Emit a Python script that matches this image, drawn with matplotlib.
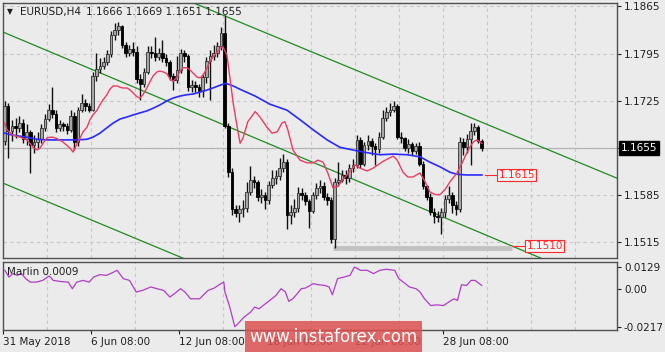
import matplotlib
matplotlib.use("Agg")
import matplotlib.pyplot as plt
import matplotlib.transforms as mtransforms
from matplotlib.patches import Rectangle
import numpy as np

# ---- data (bar index = H4 bar, 0 = first visible bar) ----
symbol = "EURUSD,H4"
last_ohlc = "1.1666 1.1669 1.1651 1.1655"

first_open = 1.1665
close = [1.1718, 1.1680, 1.1688, 1.1684, 1.1692, 1.1668, 1.1678, 1.1660, 1.1664, 1.1668,
         1.1684, 1.1698, 1.1712, 1.1705, 1.1684, 1.1690, 1.1688, 1.1682, 1.1702, 1.1664,
         1.1712, 1.1722, 1.1718, 1.1712, 1.1762, 1.1772, 1.1776, 1.1782, 1.1794, 1.1822,
         1.1830, 1.1836, 1.1808, 1.1796, 1.1802, 1.1797, 1.1758, 1.1750, 1.1768, 1.1798,
         1.1796, 1.1790, 1.1796, 1.1788, 1.1782, 1.1762, 1.1756, 1.1770, 1.1796, 1.1792,
         1.1746, 1.1749, 1.1746, 1.1740, 1.1760, 1.1784, 1.1792, 1.1796, 1.1806, 1.1826,
         1.1688, 1.1620, 1.1564, 1.1558, 1.1564, 1.1566, 1.1590, 1.1608, 1.1605, 1.1582,
         1.1586, 1.1578, 1.1600, 1.1610, 1.1613, 1.1626, 1.1634, 1.1556, 1.1560, 1.1566,
         1.1588, 1.1586, 1.1576, 1.1562, 1.1585, 1.1596, 1.1599, 1.1582, 1.1578, 1.1520,
         1.1604, 1.1608, 1.1615, 1.1610, 1.1625, 1.1630, 1.1667, 1.1632, 1.1660, 1.1666,
         1.1658, 1.1653, 1.1672, 1.1700, 1.1708, 1.1712, 1.1718, 1.1672, 1.1670, 1.1655,
         1.1661, 1.1650, 1.1658, 1.1632, 1.1598, 1.1583, 1.1560, 1.1554, 1.1552, 1.1560,
         1.1580, 1.1586, 1.1570, 1.1564, 1.1664, 1.1656, 1.1668, 1.1680, 1.1686, 1.1666,
         1.1655]
high = [1.1724, 1.1722, 1.1697, 1.1700, 1.1702, 1.1698, 1.1690, 1.1682, 1.1675, 1.1678,
        1.1690, 1.1706, 1.1720, 1.1745, 1.1712, 1.1697, 1.1694, 1.1692, 1.1712, 1.1708,
        1.1716, 1.1735, 1.1727, 1.1722, 1.1768, 1.1796, 1.1788, 1.1790, 1.1800, 1.1828,
        1.1840, 1.1842, 1.1838, 1.1812, 1.1808, 1.1812, 1.1806, 1.1765, 1.1774, 1.1806,
        1.1806, 1.1820, 1.1804, 1.1815, 1.1795, 1.1786, 1.1766, 1.1792, 1.1802, 1.1800,
        1.1795, 1.1756, 1.1754, 1.1750, 1.1766, 1.1790, 1.1800, 1.1808, 1.1812, 1.1834,
        1.1852, 1.1692, 1.1625, 1.1570, 1.1570, 1.1578, 1.1604, 1.1628, 1.1614, 1.1608,
        1.1594, 1.1590, 1.1606, 1.1622, 1.1622, 1.1640, 1.1646, 1.1638, 1.1570, 1.1580,
        1.1597, 1.1596, 1.1590, 1.1580, 1.1590, 1.1603, 1.1608, 1.1604, 1.1588, 1.1582,
        1.1610, 1.1634, 1.1622, 1.1622, 1.1632, 1.1638, 1.1675, 1.1672, 1.1664, 1.1675,
        1.1670, 1.1662, 1.1678, 1.1712, 1.1716, 1.1722, 1.1724, 1.1720, 1.1678, 1.1672,
        1.1668, 1.1664, 1.1663, 1.1664, 1.1636, 1.1600, 1.1588, 1.1566, 1.1562, 1.1566,
        1.1586, 1.1598, 1.1590, 1.1576, 1.1672, 1.1670, 1.1676, 1.1692, 1.1692, 1.1689,
        1.1669]
low = [1.1660, 1.1640, 1.1665, 1.1670, 1.1678, 1.1662, 1.1660, 1.1618, 1.1648, 1.1655,
       1.1662, 1.1680, 1.1695, 1.1700, 1.1678, 1.1680, 1.1680, 1.1676, 1.1678, 1.1652,
       1.1658, 1.1708, 1.1710, 1.1708, 1.1710, 1.1755, 1.1766, 1.1772, 1.1778, 1.1790,
       1.1815, 1.1822, 1.1804, 1.1790, 1.1792, 1.1792, 1.1752, 1.1726, 1.1745, 1.1765,
       1.1788, 1.1784, 1.1786, 1.1782, 1.1776, 1.1756, 1.1741, 1.1752, 1.1766, 1.1782,
       1.1740, 1.1738, 1.1738, 1.1730, 1.1730, 1.1752, 1.1726, 1.1786, 1.1790, 1.1800,
       1.1684, 1.1612, 1.1556, 1.1552, 1.1546, 1.1552, 1.1560, 1.1585, 1.1596, 1.1576,
       1.1574, 1.1564, 1.1572, 1.1596, 1.1602, 1.1608, 1.1620, 1.1535, 1.1543, 1.1552,
       1.1560, 1.1578, 1.1570, 1.1536, 1.1558, 1.1580, 1.1588, 1.1578, 1.1570, 1.1514,
       1.1507, 1.1598, 1.1604, 1.1602, 1.1605, 1.1620, 1.1626, 1.1625, 1.1628, 1.1652,
       1.1645, 1.1630, 1.1648, 1.1668, 1.1695, 1.1702, 1.1708, 1.1668, 1.1662, 1.1650,
       1.1648, 1.1645, 1.1646, 1.1628, 1.1594, 1.1578, 1.1555, 1.1544, 1.1546, 1.1528,
       1.1552, 1.1574, 1.1558, 1.1556, 1.1560, 1.1645, 1.1648, 1.1630, 1.1674, 1.1662,
       1.1651]

# fast (red) moving average
red_x = [0, 0.7, 2.3, 4.2, 6.1, 7.8, 8.9, 9.7, 10.5, 11.6,
         12.4, 13.2, 14.3, 15.9, 17.8, 18.7, 19.8, 20.6, 21.4, 22.5,
         23.3, 24.1, 25.2, 26.0, 26.8, 27.9, 28.7, 29.6, 30.7, 31.5,
         32.3, 33.4, 34.2, 35.0, 36.1, 36.9, 37.7, 38.8, 39.6, 40.5,
         41.6, 42.4, 43.2, 44.3, 45.1, 45.9, 47.0, 47.8, 48.6, 49.7,
         50.5, 51.4, 52.5, 53.3, 54.1, 55.2, 56.0, 56.8, 57.9, 58.7,
         59.5, 60.6, 61.4, 62.3, 63.4, 64.2, 65.0, 66.3, 68.3, 69.6,
         71.5, 72.9, 74.3, 75.6, 76.4, 77.2, 78.6, 80.5, 82.4, 84.1,
         85.4, 86.8, 88.1, 89.5, 90.8, 92.2, 93.6, 95.5, 96.9, 98.8,
         100.4, 103.1, 105.9, 107.0, 108.6, 109.9, 111.3, 113.2, 114.6, 115.9,
         117.3, 118.7, 120.0, 121.4, 123.3, 124.7, 126.0, 126.8, 127.7, 128.7,
         130.1]
red_y = [1.1692, 1.1682, 1.1674, 1.1671, 1.1667, 1.1656, 1.1652, 1.1655, 1.1662, 1.1670,
         1.1671, 1.1671, 1.1669, 1.1664, 1.1655, 1.1649, 1.1662, 1.1670, 1.1679, 1.1686,
         1.1697, 1.1704, 1.1711, 1.1719, 1.1726, 1.1734, 1.1742, 1.1747, 1.1747, 1.1745,
         1.1744, 1.1744, 1.1741, 1.1737, 1.1731, 1.1729, 1.1734, 1.1744, 1.1753, 1.1762,
         1.1768, 1.1769, 1.1768, 1.1765, 1.1757, 1.1754, 1.1760, 1.1768, 1.1774, 1.1774,
         1.1771, 1.1766, 1.1760, 1.1759, 1.1763, 1.1774, 1.1783, 1.1790, 1.1797, 1.1803,
         1.1805, 1.1793, 1.1760, 1.1722, 1.1686, 1.1662, 1.1670, 1.1694, 1.1709, 1.1701,
         1.1686, 1.1677, 1.1679, 1.1692, 1.1694, 1.1682, 1.1652, 1.1637, 1.1633, 1.1633,
         1.1637, 1.1634, 1.1618, 1.1596, 1.1598, 1.1608, 1.1617, 1.1630, 1.1625, 1.1621,
         1.1625, 1.1635, 1.1643, 1.1637, 1.1619, 1.1612, 1.1612, 1.1618, 1.1605, 1.1590,
         1.1586, 1.1586, 1.1593, 1.1605, 1.1618, 1.1633, 1.1648, 1.1656, 1.1664, 1.1667,
         1.1662]

# slow (blue) moving average
blue_x = [0, 2.3, 6.1, 8.9, 11.6, 19.8, 22.5, 24.1, 26.0, 27.9,
          29.6, 31.5, 33.4, 35.0, 36.9, 38.8, 40.5, 42.4, 44.3, 45.9,
          47.8, 49.7, 51.4, 53.3, 55.2, 56.8, 58.7, 60.3, 62.3, 64.2,
          68.3, 72.3, 77.0, 80.5, 84.1, 87.9, 91.4, 95.0, 98.8, 102.3,
          105.9, 109.7, 113.2, 115.9, 118.7, 121.4, 123.3, 126.0, 130.1]
blue_y = [1.1677, 1.1674, 1.1671, 1.1668, 1.1667, 1.1667, 1.1668, 1.1671, 1.1677, 1.1685,
          1.1692, 1.1698, 1.1701, 1.1704, 1.1707, 1.1710, 1.1714, 1.1719, 1.1725, 1.1729,
          1.1732, 1.1734, 1.1735, 1.1738, 1.1741, 1.1744, 1.1748, 1.1751, 1.1747, 1.1742,
          1.1732, 1.1720, 1.1711, 1.1697, 1.1682, 1.1667, 1.1656, 1.1652, 1.1648, 1.1645,
          1.1646, 1.1645, 1.1642, 1.1634, 1.1627, 1.1619, 1.1616, 1.1615, 1.1615]

# price channel (green), two points per line
channel_x = [0, 167]
channel_upper = [1.1986, 1.1610]
channel_middle = [1.1826, 1.1444]
channel_lower = [1.1602, 1.1223]

# support band and level tags
support_level = 1.1506
support_from, support_to = 89.5, 138.3
tag_ma = 1.1615
tag_low = 1.1510

# Marlin oscillator
marlin_x = [0, 1.1, 2.2, 3.4, 4.5, 5.7, 6.9, 8.6, 10.3, 12.1,
            13.2, 15, 17.3, 18.4, 19.6, 21.3, 23.0, 24.2, 25.9, 27.7,
            29.4, 30.6, 32.3, 34.0, 35.8, 37.5, 39.8, 41.5, 43.3, 45.0,
            46.2, 47.9, 49.1, 50.6, 53.1, 55.4, 57.1, 58.9, 59.7, 60.0,
            61.2, 62.7, 63.5, 65.2, 67.0, 68.1, 69.3, 70.4, 72.2, 73.9,
            75.3, 76.5, 77.4, 78.5, 79.7, 80.8, 82.0, 84.1, 85.5, 87.2,
            88.4, 89.3, 90.7, 92.4, 94.1, 95.3, 97.0, 98.8, 100.5, 102.2,
            104.0, 106.3, 107.4, 109.2, 110.3, 112.1, 113.2, 114.4, 116.1, 117.8,
            119.6, 121.3, 122.5, 123.4, 124.5, 125.9, 127.1, 128.2, 130.0]
marlin_v = [0.0110, 0.0071, 0.0091, 0.0081, 0.0091, 0.0062, 0.0042, 0.0042, 0.0052, 0.0077,
            0.0052, 0.0046, 0.0042, 0.0004, 0.0042, 0.0052, 0.0042, 0.0071, 0.0085, 0.0081,
            0.0097, 0.0110, 0.0062, 0.0052, -0.0015, -0.0006, 0.0014, 0.0004, -0.0006, -0.0044,
            -0.0025, 0.0004, -0.0015, -0.0054, -0.0054, -0.0006, 0.0008, 0.0033, 0.0042, -0.0015,
            -0.0093, -0.0215, -0.0199, -0.0160, -0.0131, -0.0102, -0.0112, -0.0093, -0.0064, -0.0035,
            0.0004, -0.0015, -0.0069, -0.0054, -0.0025, 0.0004, 0.0008, 0.0033, 0.0027, 0.0023,
            0.0014, -0.0031, 0.0062, 0.0071, 0.0081, 0.0129, 0.0110, 0.0110, 0.0091, 0.0110,
            0.0116, 0.0110, 0.0062, 0.0033, 0.0014, 0.0004, -0.0015, -0.0054, -0.0093, -0.0089,
            -0.0093, -0.0069, -0.0054, -0.0064, 0.0027, 0.0023, 0.0052, 0.0052, 0.0023]
marlin_last = "0.0009"

price_ticks = [1.1515, 1.1585, 1.1655, 1.1725, 1.1795, 1.1865]
marlin_ticks = [-0.0217, 0.0, 0.0129]
marlin_tick_labels = ["-0.0217", "0.00", "0.0129"]
date_bars = [-0.5, 23.5, 47.5, 71.5, 95.5, 119.5]
date_labels = ["31 May 2018", "6 Jun 08:00", "12 Jun 08:00", "18 Jun 08:00",
               "22 Jun 08:00", "28 Jun 08:00"]
grid_bars = np.arange(11.5, 160, 12)

BG = "#ebebeb"
GRID = "#c6c6c6"
EDGE = "#505050"
TAG = "#ff2a2a"

W, H = 665, 352
fig = plt.figure(figsize=(W / 100, H / 100), dpi=100)
fig.patch.set_facecolor(BG)
ax = fig.add_axes([3 / W, 1 - 258 / H, 614 / W, 255 / H])
ax2 = fig.add_axes([3 / W, 1 - 330 / H, 614 / W, 68 / H])

xlim = (-0.41, -0.41 + 614 / 3.67)
for a in (ax, ax2):
    a.set_facecolor(BG)
    a.set_xlim(*xlim)
    for s in a.spines.values():
        s.set_color(EDGE)
        s.set_linewidth(1.0)
    a.set_axisbelow(True)
    a.set_xticks(grid_bars, minor=True)
    a.grid(which="minor", axis="x", color=GRID, ls=(0, (3, 3)), lw=0.8)
    a.yaxis.tick_right()
    a.tick_params(axis="y", length=3, pad=2, labelsize=7.5, colors="#202020")
    a.tick_params(which="minor", length=0)

# ---- price panel ----
ax.set_ylim(1.14919, 1.1870)
ax.set_yticks(price_ticks)
ax.set_yticklabels([("" if abs(t - close[-1]) < 1e-6 else "%.4f" % t) for t in price_ticks])
ax.grid(which="major", axis="y", color=GRID, ls=(0, (3, 3)), lw=0.8)
ax.set_xticks([])
ax.tick_params(axis="x", bottom=False, labelbottom=False)

x = np.arange(len(close))
c = np.array(close)
o = np.concatenate([[first_open], c[:-1]])
hi = np.array(high)
lo = np.array(low)
up = c >= o

ax.axhline(close[-1], color="#b4b4b4", lw=0.9, zorder=1)

ax.plot(channel_x, channel_upper, color="#1f8a1f", lw=0.9, zorder=2)
ax.plot(channel_x, channel_middle, color="#1f8a1f", lw=0.9, zorder=2)
ax.plot(channel_x, channel_lower, color="#1f8a1f", lw=0.9, zorder=2)

ax.hlines(support_level, support_from, support_to, color="#c2c2c2", lw=3.5, zorder=2)

ax.vlines(x, lo, hi, color="#101010", lw=1.0, zorder=3)
body = np.maximum(np.abs(c - o), 0.00008)
ax.bar(x[up], body[up], bottom=o[up], width=0.72, color="#a6a6a6",
       edgecolor="#303030", lw=0.6, zorder=4)
ax.bar(x[~up], body[~up], bottom=c[~up], width=0.72, color="black",
       edgecolor="black", lw=0.6, zorder=4)

ax.plot(blue_x, blue_y, color="#2a2aff", lw=1.2, zorder=5)
ax.plot(red_x, red_y, color="#ea3c64", lw=1.0, zorder=5)

# level tags
ax.plot([blue_x[-1] + 0.8, 134.2], [tag_ma, tag_ma], color=TAG, lw=0.8, zorder=6)
ax.text(134.6, tag_ma, "%.4f" % tag_ma, ha="left", va="center", fontsize=7.5, color=TAG,
        zorder=7, bbox=dict(boxstyle="square,pad=0.12", fc="#f3f3f3", ec=TAG, lw=0.8))
ax.plot([support_to, 141.8], [tag_low, tag_low], color=TAG, lw=0.8, zorder=6)
ax.text(142.2, tag_low, "%.4f" % tag_low, ha="left", va="center", fontsize=7.5, color=TAG,
        zorder=7, bbox=dict(boxstyle="square,pad=0.12", fc="#f3f3f3", ec=TAG, lw=0.8))

# current price box
trans = mtransforms.blended_transform_factory(ax.transAxes, ax.transData)
ax.text(1.006, close[-1], "%.4f" % close[-1], transform=trans, ha="left", va="center",
        fontsize=7.5, color="white", clip_on=False,
        bbox=dict(boxstyle="square,pad=0.2", fc="black", ec="black"))

# header
fig.text(7 / W, 1 - 12 / H, "\u25bc", fontsize=5.5, va="center", ha="left", color="#202020")
fig.text(20 / W, 1 - 12 / H, symbol, fontsize=7.5, va="center", ha="left", color="#202020")
fig.text(86 / W, 1 - 12 / H, last_ohlc, fontsize=7.5, va="center", ha="left", color="#202020")

# ---- indicator panel ----
ax2.set_ylim(-0.0234, 0.0158)
ax2.set_yticks(marlin_ticks)
ax2.set_yticklabels(marlin_tick_labels)
ax2.plot(marlin_x, marlin_v, color="#b03cc8", lw=0.9)
ax2.text(0.0065, 0.86, "Marlin " + marlin_last, transform=ax2.transAxes, fontsize=7.5,
         va="center", ha="left", color="#202020")
ax2.set_xticks(date_bars)
ax2.set_xticklabels(date_labels, ha="left", fontsize=7.5, color="#202020")
ax2.tick_params(axis="x", length=3, pad=2, colors="#202020")

# watermark (covers two date labels, as in the original screenshot)
fig.add_artist(Rectangle((245 / W, 0), 177 / W, 31 / H, transform=fig.transFigure,
                         fc="#dc5050", ec="none", alpha=0.85, zorder=10))
fig.text(333.5 / W, 1 - 337 / H, "www.instaforex.com", fontsize=12, color="white",
         ha="center", va="center", zorder=11)

fig.savefig("out.png", dpi=100, facecolor=BG)
